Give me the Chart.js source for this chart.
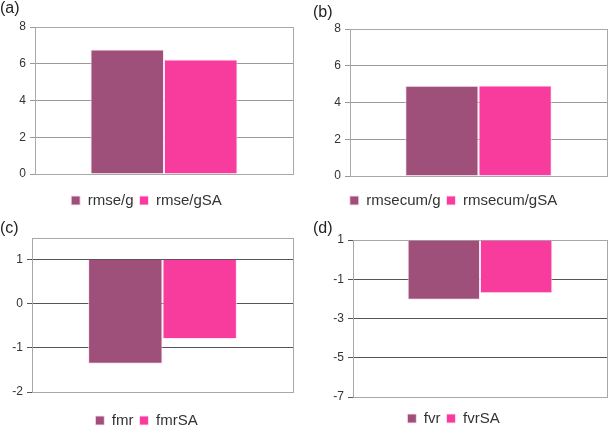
<!DOCTYPE html>
<html>
<head>
<meta charset="utf-8">
<script src="https://cdn.jsdelivr.net/npm/chart.js@4"></script>
<style>
  body { margin: 0; background: #fff; overflow: hidden; }
  #wrap { position: relative; width: 609px; height: 435px; overflow: hidden; font-family: "Liberation Sans", Arial, sans-serif; }
  canvas { position: absolute; }
  .tag { position: absolute; font-size: 16px; color: #222; }
</style>
</head>
<body>
<div id="wrap">
  <canvas id="ca" width="300" height="219" style="left:0;top:0"></canvas>
  <canvas id="cb" width="309" height="218" style="left:300px;top:0"></canvas>
  <canvas id="cc" width="300" height="224" style="left:0;top:215px"></canvas>
  <canvas id="cd" width="309" height="221" style="left:300px;top:215px"></canvas>
  <div class="tag" style="left:0;top:-1px">(a)</div>
  <div class="tag" style="left:313px;top:3px">(b)</div>
  <div class="tag" style="left:0;top:219px">(c)</div>
  <div class="tag" style="left:313px;top:219px">(d)</div>
</div>
<script>
// series names and values for each panel
var namesA = ['rmse/g', 'rmse/gSA'];
var valuesA = [6.78, 6.23];
var ticksA = [0, 2, 4, 6, 8];

var namesB = ['rmsecum/g', 'rmsecum/gSA'];
var valuesB = [4.91, 4.92];
var ticksB = [0, 2, 4, 6, 8];

var namesC = ['fmr', 'fmrSA'];
var valuesC = [-1.36, -0.80];
var ticksC = [-2, -1, 0, 1];

var namesD = ['fvr', 'fvrSA'];
var valuesD = [-2.05, -1.71];
var ticksD = [-7, -5, -3, -1, 1];

var colors = ['#9e4f7a', '#f83c9e'];

// draws a thin frame round the plot area
var frame = {
    id: 'frame',
    beforeDatasetsDraw: function (chart) {
        var a = chart.chartArea, c = chart.ctx;
        c.save();
        c.strokeStyle = '#a8a8a8';
        c.lineWidth = 1;
        c.strokeRect(Math.round(a.left) + 0.5, Math.round(a.top) + 0.5,
            Math.round(a.right - a.left), Math.round(a.bottom - a.top));
        c.restore();
    }
};

function makeChart(id, names, values, ticks, o) {
    var datasets = names.map(function (n, i) {
        var ds = {
            label: n,
            data: [values[i]],
            backgroundColor: colors[i],
            borderColor: 'rgba(255,225,240,0.9)',
            borderWidth: 1
        };
        if (o.base !== undefined) ds.base = o.base;
        return ds;
    });

    return new Chart(document.getElementById(id), {
        type: 'bar',
        data: { labels: [''], datasets: datasets },
        plugins: [frame],
        options: {
            responsive: false,
            animation: false,
            categoryPercentage: 0.57,
            barPercentage: 1,
            layout: { padding: { top: o.top, right: o.right, bottom: o.bottom, left: 0 } },
            plugins: {
                tooltip: { enabled: false },
                legend: {
                    position: 'bottom',
                    labels: {
                        boxWidth: 9,
                        boxHeight: 9,
                        padding: 6,
                        color: '#333',
                        font: { family: 'Liberation Sans', size: 15 }
                    }
                }
            },
            scales: {
                x: {
                    afterFit: function (s) { s.height = o.xh; },
                    grid: { display: false, drawTicks: false },
                    ticks: { display: false },
                    border: { color: '#888' }
                },
                y: {
                    min: o.min,
                    max: o.max,
                    afterFit: function (s) { s.width = o.axisWidth; },
                    afterBuildTicks: function (s) {
                        s.ticks = ticks.map(function (v) { return { value: v }; });
                    },
                    grid: { color: o.grid, tickLength: 5 },
                    border: { color: '#888' },
                    ticks: {
                        padding: 4,
                        color: '#333',
                        font: { family: 'Liberation Sans', size: 12 }
                    }
                }
            }
        }
    });
}

makeChart('ca', namesA, valuesA, ticksA, { min: 0, max: 8, axisWidth: 35, top: 27, right: 7, bottom: 1, xh: 13, grid: '#9a9a9a' });
makeChart('cb', namesB, valuesB, ticksB, { min: 0, max: 8, axisWidth: 50, top: 29, right: 2, bottom: 0, xh: 11, grid: '#9a9a9a' });
makeChart('cc', namesC, valuesC, ticksC, { min: -2, max: 1.48, base: 1, axisWidth: 32, top: 23, right: 7, bottom: 1, xh: 15, grid: '#555' });
makeChart('cd', namesD, valuesD, ticksD, { min: -7, max: 1, base: 1, axisWidth: 53, top: 25, right: 2, bottom: 0, xh: 8, grid: '#555' });
</script>
</body>
</html>
